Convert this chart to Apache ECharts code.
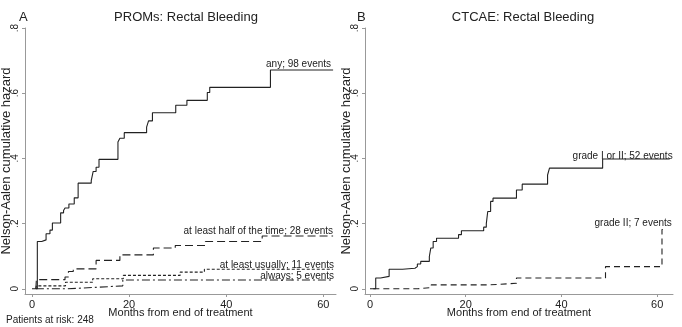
<!DOCTYPE html>
<html>
<head>
<meta charset="utf-8">
<script src="https://cdn.jsdelivr.net/npm/echarts@6/dist/echarts.min.js"></script>
<style>
  html, body { margin: 0; padding: 0; background: #fff; }
  #chart { width: 682px; height: 327px; }
</style>
</head>
<body>
<div id="chart"></div>
<script>
// months from end of treatment / cumulative hazard
const anyT = [0, 0.6, 1.1, 2.0, 2.9, 3.7, 4.2, 5.9, 6.5, 6.8, 7.6, 8.7, 9.5, 12.2, 12.6, 13.2, 13.8, 17.7, 18.1, 19.0, 23.6, 24.0, 24.8, 29.6, 31.9, 36.1, 36.6, 49.1, 62.0];
const anyV = [0, 0, 0.145, 0.15, 0.169, 0.18, 0.202, 0.233, 0.24, 0.248, 0.26, 0.279, 0.324, 0.332, 0.36, 0.373, 0.397, 0.45, 0.462, 0.479, 0.496, 0.515, 0.54, 0.563, 0.578, 0.602, 0.618, 0.671, 0.671];

const halfT = [0.8, 0.9, 6.8, 7.5, 8.5, 13.2, 18.1, 25.0, 29.5, 35.7, 47.4, 62.0];
const halfV = [0, 0.028, 0.036, 0.053, 0.061, 0.087, 0.104, 0.125, 0.133, 0.145, 0.162, 0.162];

const usuallyT = [0.8, 0.9, 6.9, 12.5, 18.8, 30.5, 35.5, 62.0];
const usuallyV = [0, 0.009, 0.02, 0.031, 0.041, 0.051, 0.06, 0.06];

const alwaysT = [0.8, 7.1, 12.6, 18.7, 62.0];
const alwaysV = [0, 0.004, 0.009, 0.027, 0.027];

const gradeAnyT = [0, 0.55, 1.2, 2.2, 4.0, 6.8, 9.4, 9.9, 10.6, 12.4, 12.7, 13.2, 13.9, 18.5, 19.1, 23.75, 24.3, 24.6, 25.2, 25.7, 30.6, 31.8, 37.1, 37.5, 48.6, 62.6];
const gradeAnyV = [0, 0, 0.033, 0.038, 0.06, 0.063, 0.068, 0.076, 0.084, 0.099, 0.125, 0.145, 0.155, 0.166, 0.178, 0.189, 0.2, 0.237, 0.268, 0.278, 0.303, 0.321, 0.349, 0.37, 0.398, 0.398];

const grade2T = [0.7, 10.0, 12.8, 25.0, 30.6, 49.2, 61.0, 62.0];
const grade2V = [0, 0.004, 0.012, 0.017, 0.033, 0.068, 0.182, 0.182];

const xTicks = [0, 20, 40, 60];
const yTicks = [0, 0.2, 0.4, 0.6, 0.8];

const ink = '#222';
const axisGray = '#999';
const font = 'Liberation Sans';

function pts(t, v) {
  return t.map((x, i) => [x, v[i]]);
}

function yLabel(v) {
  return v === 0 ? '0' : String(v).replace(/^0/, '');
}

function makeX(idx, min, max) {
  return {
    type: 'value', gridIndex: idx, min: min, max: max,
    splitLine: { show: false },
    axisLine: { onZero: false, lineStyle: { color: axisGray, width: 1 } },
    axisTick: { customValues: xTicks, length: 3, lineStyle: { color: axisGray } },
    axisLabel: { customValues: xTicks, color: ink, fontSize: 11, margin: 5, fontFamily: font },
    name: 'Months from end of treatment',
    nameLocation: 'middle', nameGap: 13, nameMoveOverlap: false,
    nameTextStyle: { color: ink, fontSize: 11, fontFamily: font }
  };
}

function makeY(idx) {
  return {
    type: 'value', gridIndex: idx, min: -0.016, max: 0.8,
    splitLine: { show: false },
    axisLine: { show: true, onZero: false, lineStyle: { color: axisGray, width: 1 } },
    axisTick: { show: true, customValues: yTicks, length: 3, lineStyle: { color: axisGray } },
    axisLabel: { customValues: yTicks, formatter: yLabel, rotate: 90, color: ink, fontSize: 10, margin: 5, fontFamily: font },
    name: 'Nelson-Aalen cumulative hazard',
    nameLocation: 'middle', nameGap: 12, nameMoveOverlap: false,
    nameTextStyle: { color: ink, fontSize: 13, fontFamily: font }
  };
}

// label sits right-aligned just above the end of its curve
function stepSeries(name, t, v, idx, type, off) {
  return {
    name: name, type: 'line', step: 'end',
    xAxisIndex: idx, yAxisIndex: idx,
    data: pts(t, v), symbol: 'none', silent: true,
    lineStyle: { color: ink, width: 1.1, type: type },
    endLabel: {
      show: true, formatter: name, distance: 0,
      align: 'right', verticalAlign: 'bottom',
      color: ink, fontSize: 10, fontFamily: font,
      offset: off
    }
  };
}

const chart = echarts.init(document.getElementById('chart'), null, { renderer: 'canvas' });

chart.setOption({
  animation: false,
  backgroundColor: '#fff',
  title: [
    { text: 'A', left: 14, top: 6, textStyle: { fontSize: 13, fontWeight: 'normal', color: ink, fontFamily: font } },
    { text: 'PROMs: Rectal Bleeding', left: 181, top: 6, textAlign: 'center', textStyle: { fontSize: 13, fontWeight: 'normal', color: ink, fontFamily: font } },
    { text: 'B', left: 352, top: 6, textStyle: { fontSize: 13, fontWeight: 'normal', color: ink, fontFamily: font } },
    { text: 'CTCAE: Rectal Bleeding', left: 518, top: 6, textAlign: 'center', textStyle: { fontSize: 13, fontWeight: 'normal', color: ink, fontFamily: font } },
    { text: 'Patients at risk: 248', left: 1, top: 310, textStyle: { fontSize: 10, fontWeight: 'normal', color: ink, fontFamily: font } }
  ],
  grid: [
    { left: 25, right: 346, top: 28, bottom: 33, outerBoundsMode: 'none' },
    { left: 365, right: 9, top: 28, bottom: 33, outerBoundsMode: 'none' }
  ],
  xAxis: [makeX(0, -1.44, 62.6), makeX(1, -1.04, 63.3)],
  yAxis: [makeY(0), makeY(1)],
  series: [
    stepSeries('any; 98 events', anyT, anyV, 0, 'solid', [-2, -1]),
    stepSeries('at least half of the time; 28 events', halfT, halfV, 0, [8, 4], [0, 0]),
    stepSeries('at least usually; 11 events', usuallyT, usuallyV, 0, [3, 2], [1, 1]),
    stepSeries('always; 5 events', alwaysT, alwaysV, 0, [8, 3, 2, 3], [1, 1]),
    stepSeries('grade I or II; 52 events', gradeAnyT, gradeAnyV, 1, 'solid', [3, 2]),
    stepSeries('grade II; 7 events', grade2T, grade2V, 1, [6, 4], [5, -1])
  ]
});
</script>
</body>
</html>
